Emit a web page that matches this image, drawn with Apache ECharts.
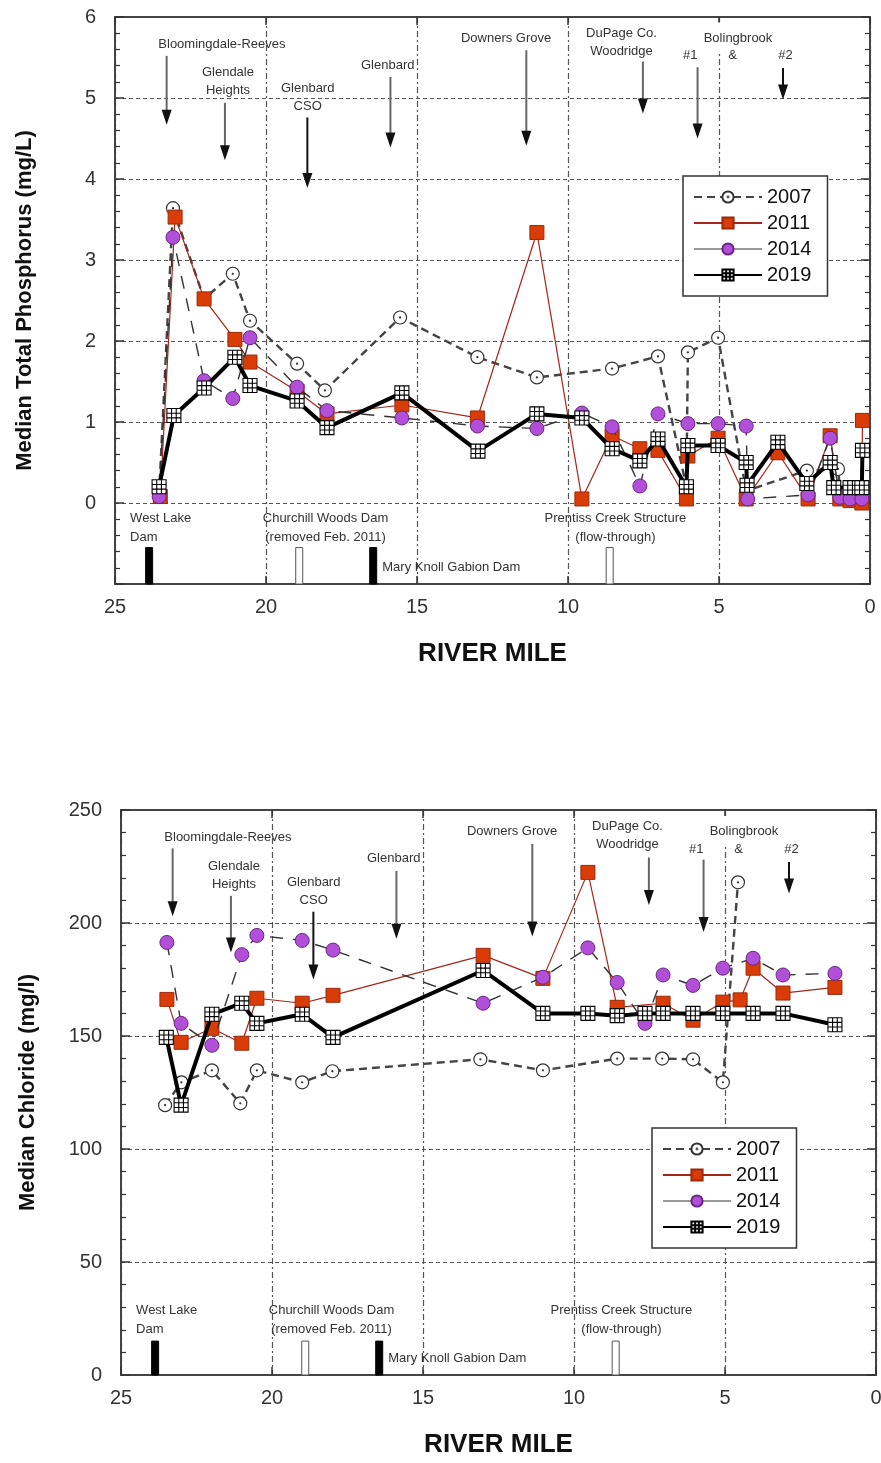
<!DOCTYPE html>
<html>
<head>
<meta charset="utf-8">
<script src="https://cdn.jsdelivr.net/npm/echarts@6/dist/echarts.min.js"></script>
<style>
html,body{margin:0;padding:0;background:#fff;}
#c{width:881px;height:1463px;}
</style>
</head>
<body>
<div id="c"></div>
<script>
// ---------------- DATA ----------------
const seriesNames = ['2007', '2011', '2014', '2019'];

// Total phosphorus (mg/L) by river mile
const tp2007Miles = [23.54, 23.08, 22.05, 21.1, 20.53, 18.97, 18.05, 15.56, 13.0, 11.03, 8.54, 7.02, 6.08, 6.03, 5.03, 4.1, 2.09, 1.06, 0.95, 0.6, 0.27];
const tp2007 = [0.1, 3.64, 2.52, 2.83, 2.25, 1.72, 1.39, 2.29, 1.8, 1.55, 1.66, 1.81, 0.2, 1.86, 2.04, 0.15, 0.4, 0.42, 0.05, 0.05, 0.05];

const tp2011Miles = [23.5, 23.01, 22.05, 21.03, 20.53, 18.97, 17.98, 15.5, 13.0, 11.03, 9.54, 8.54, 7.62, 7.02, 6.08, 6.03, 5.03, 4.1, 3.05, 2.05, 1.32, 1.0, 0.66, 0.27, 0.25];
const tp2011 = [0.08, 3.53, 2.52, 2.02, 1.74, 1.38, 1.1, 1.21, 1.05, 3.34, 0.05, 0.83, 0.67, 0.65, 0.05, 0.58, 0.8, 0.05, 0.62, 0.05, 0.83, 0.05, 0.03, 0.0, 1.02];

const tp2014Miles = [23.54, 23.08, 22.05, 21.1, 20.53, 18.97, 17.98, 15.5, 13.0, 11.03, 9.54, 8.54, 7.62, 7.02, 6.03, 5.03, 4.1, 4.05, 2.05, 1.32, 1.0, 0.66, 0.27];
const tp2014 = [0.08, 3.28, 1.51, 1.29, 2.04, 1.43, 1.14, 1.05, 0.95, 0.92, 1.11, 0.94, 0.21, 1.1, 0.98, 0.98, 0.95, 0.05, 0.1, 0.8, 0.07, 0.05, 0.05];

const tp2019Miles = [23.54, 23.05, 22.05, 21.03, 20.53, 18.97, 17.98, 15.5, 12.98, 11.03, 9.54, 8.54, 7.62, 7.02, 6.08, 6.03, 5.03, 4.1, 4.07, 3.05, 2.09, 1.32, 1.2, 0.66, 0.27, 0.25];
const tp2019 = [0.2, 1.08, 1.42, 1.8, 1.45, 1.26, 0.93, 1.36, 0.64, 1.1, 1.05, 0.67, 0.52, 0.79, 0.2, 0.71, 0.71, 0.5, 0.22, 0.75, 0.24, 0.5, 0.19, 0.19, 0.19, 0.65];

// Chloride (mg/l) by river mile
const cl2007Miles = [23.54, 23.0, 21.99, 21.05, 20.5, 19.0, 18.0, 13.1, 11.03, 8.57, 7.08, 6.06, 5.07, 4.57];
const cl2007 = [119.4, 129.5, 134.8, 120.2, 134.8, 129.5, 134.4, 139.7, 134.8, 140, 140, 139.7, 129.5, 218];

const cl2011Miles = [23.48, 23.01, 21.99, 21.0, 20.5, 19.0, 17.98, 13.01, 11.03, 9.54, 8.57, 7.05, 6.06, 5.07, 4.5, 4.07, 3.08, 1.36];
const cl2011 = [166.2, 147.2, 153.4, 146.8, 166.7, 164.5, 168, 185.7, 175.5, 222.4, 162.7, 164.5, 157, 165, 166, 180, 169, 171.5];

const cl2014Miles = [23.48, 23.01, 21.99, 21.0, 20.5, 19.0, 17.98, 13.01, 11.03, 9.54, 8.57, 7.65, 7.05, 6.06, 5.07, 4.07, 3.08, 1.36];
const cl2014 = [191.4, 155.6, 145.9, 186, 194.5, 192.3, 188, 164.5, 176, 189, 173.7, 155.6, 177, 172.4, 180, 184.4, 177, 177.7];

const cl2019Miles = [23.5, 23.01, 21.99, 21.0, 20.5, 19.0, 17.98, 13.01, 11.03, 9.54, 8.57, 7.65, 7.05, 6.06, 5.07, 4.07, 3.08, 1.36];
const cl2019 = [149.4, 119.4, 159.6, 164.5, 155.6, 159.6, 149.4, 179, 160, 160, 159, 160, 160, 160, 160, 160, 160, 155];

// Dams / structures (river mile, filled?)
const damMiles = [23.87, 18.9, 16.45, 8.62];
const damFilled = [1, 0, 1, 0];
const damTopTP = -0.55, damTopCl = 15;

// Site labels: [text, mile, value(TP chart), value(Cl chart), align, masks grid line]
const siteLabels = [
  ['Bloomingdale-Reeves', 21.46, 5.66, 237.8, 'center', 0],
  ['Glendale\nHeights', 21.26, 5.2, 221, 'center', 0],
  ['Glenbard\nCSO', 18.62, 5.01, 214, 'center', 0],
  ['Glenbard', 15.97, 5.4, 228.6, 'center', 0],
  ['Downers Grove', 12.05, 5.74, 240.5, 'center', 0],
  ['DuPage Co.\nWoodridge', 8.23, 5.69, 238.7, 'center', 0],
  ['Bolingbrook', 4.37, 5.74, 240.5, 'center', 1],
  ['#1', 5.95, 5.53, 232.5, 'center', 0],
  ['&', 4.55, 5.53, 232.5, 'center', 0],
  ['#2', 2.8, 5.53, 232.5, 'center', 0]
];
// Arrows: [mile, tpStart, tpEnd, clStart, clEnd, dark]
const arrows = [
  [23.29, 5.52, 4.67, 233, 203, 0],
  [21.36, 4.94, 4.23, 212, 187, 0],
  [18.63, 4.76, 3.89, 205, 175, 1],
  [15.88, 5.26, 4.39, 223, 193, 0],
  [11.38, 5.59, 4.41, 235, 194, 0],
  [7.52, 5.45, 4.81, 229, 208, 0],
  [5.71, 5.38, 4.5, 228, 196, 0],
  [2.88, 5.37, 4.98, 227, 213, 1]
];
// Dam labels: [text, mile, tpValue, clValue, align]
const damLabels = [
  ['West Lake\nDam', 24.5, -0.31, 24.3, 'left'],
  ['Churchill Woods Dam\n(removed Feb. 2011)', 18.03, -0.31, 24.3, 'center'],
  ['Mary Knoll Gabion Dam', 16.15, -0.79, 7.5, 'left'],
  ['Prentiss Creek Structure\n(flow-through)', 8.43, -0.31, 24.3, 'center']
];

// ---------------- CHART ----------------
const FONT = "'Liberation Sans', Arial, sans-serif";
const NARROW = "'Liberation Sans Narrow', 'Liberation Sans', Arial, sans-serif";
const pairs = (xs, ys) => xs.map((x, i) => [x, ys[i]]);
const gridSymbol = 'path://M0,0L12,0L12,12L0,12Z M4,0L4,12 M8,0L8,12 M0,4L12,4 M0,8L12,8';
const dotCircle = 'path://M0,6A6,6 0 1,1 12,6A6,6 0 1,1 0,6Z M5.5,6A0.5,0.5 0 1,1 6.5,6A0.5,0.5 0 1,1 5.5,6Z';

const styles = {
  '2007': {symbol: dotCircle, symbolSize: 13, itemStyle: {color: '#fff', borderColor: '#333', borderWidth: 1.2},
           lineStyle: {color: '#444', width: 2.4, type: [8, 5]}},
  '2011': {symbol: 'rect', symbolSize: 14, itemStyle: {color: '#d93c06', borderColor: '#9c2a0a', borderWidth: 1},
           lineStyle: {color: '#a3261c', width: 1.2, type: 'solid'}},
  '2014': {symbol: 'circle', symbolSize: 14, itemStyle: {color: '#b24fd8', borderColor: '#6a2682', borderWidth: 1},
           lineStyle: {color: '#333', width: 1.4, type: [13, 10]}},
  '2019': {symbol: gridSymbol, symbolSize: 14, itemStyle: {color: '#fff', borderColor: '#000', borderWidth: 1.1},
           lineStyle: {color: '#000', width: 4, type: 'solid'}}
};

function lineSeries(name, data, xi, yi) {
  const s = styles[name];
  return Object.assign({
    type: 'line', name: name, data: data, xAxisIndex: xi, yAxisIndex: yi,
    showSymbol: true, animation: false, z: 3 + seriesNames.indexOf(name),
    emphasis: {disabled: true}
  }, JSON.parse(JSON.stringify(s)), {symbol: s.symbol});
}

function damSeries(xi, yi, topVal, baseVal) {
  return {
    type: 'custom', name: 'dams', xAxisIndex: xi, yAxisIndex: yi, animation: false, z: 2,
    data: damMiles.map((m, i) => [m, topVal, baseVal, damFilled[i]]),
    renderItem: function (params, api) {
      const p0 = api.coord([api.value(0), api.value(1)]);
      const p1 = api.coord([api.value(0), api.value(2)]);
      const filled = api.value(3) === 1;
      return {type: 'rect', shape: {x: p0[0] - 3.5, y: p0[1], width: 7, height: p1[1] - p0[1]},
              style: {fill: filled ? '#000' : '#fff', stroke: filled ? '#000' : '#555', lineWidth: 1}};
    }
  };
}

const axisLineStyle = {color: '#444', width: 2};
function xAxes(gi) {
  return [{
    gridIndex: gi, type: 'value', inverse: true, min: 0, max: 25, interval: 5, position: 'bottom',
    axisLine: {show: true, onZero: false, lineStyle: axisLineStyle},
    axisTick: {show: true, inside: true, length: 8, lineStyle: {color: '#333', width: 1.5}},
    axisLabel: {fontSize: 20, color: '#333', margin: 13, fontFamily: FONT},
    splitLine: {show: true, lineStyle: {color: '#555', width: 1.2, type: [6, 3, 2, 3]}},
    name: 'RIVER MILE', nameLocation: 'middle', nameGap: 57,
    nameTextStyle: {fontSize: 26, fontWeight: 'bold', color: '#111', fontFamily: NARROW}
  }, {
    gridIndex: gi, type: 'value', inverse: true, min: 0, max: 25, interval: 5, position: 'top',
    axisLine: {show: true, onZero: false, lineStyle: axisLineStyle},
    axisTick: {show: true, inside: true, length: 8, lineStyle: {color: '#333', width: 1.5}},
    axisLabel: {show: false}, splitLine: {show: false}
  }];
}
function yAxes(gi, min, max, interval, name, gap) {
  return [{
    gridIndex: gi, type: 'value', min: min, max: max, interval: interval, position: 'left',
    axisLine: {show: true, onZero: false, lineStyle: axisLineStyle},
    axisTick: {show: true, inside: true, length: 9, lineStyle: {color: '#333', width: 1.5}},
    minorTick: {show: true, splitNumber: 5, length: 5, lineStyle: {color: '#333', width: 1.2}},
    axisLabel: {fontSize: 20, color: '#333', margin: 19, fontFamily: FONT,
                formatter: v => (v < 0 ? '' : String(v))},
    splitLine: {show: true, lineStyle: {color: '#555', width: 1.2, type: [4, 3]}},
    name: name, nameLocation: 'middle', nameRotate: 90, nameGap: gap,
    nameTextStyle: {fontSize: 22, fontWeight: 'bold', color: '#111', fontFamily: FONT}
  }, {
    gridIndex: gi, type: 'value', min: min, max: max, interval: interval, position: 'right',
    axisLine: {show: true, onZero: false, lineStyle: axisLineStyle},
    axisTick: {show: true, inside: true, length: 9, lineStyle: {color: '#333', width: 1.5}},
    minorTick: {show: true, splitNumber: 5, length: 5, lineStyle: {color: '#333', width: 1.2}},
    axisLabel: {show: false}, splitLine: {show: false}
  }];
}

function legendAt(left, top) {
  return {
    data: seriesNames.map(n => n === '2014'
      ? {name: n, lineStyle: {type: 'solid', color: '#777', width: 1.4}}
      : {name: n}),
    left: left, top: top, orient: 'vertical',
    backgroundColor: '#fff', borderColor: '#333', borderWidth: 1.5,
    padding: [11, 16, 11, 10], itemGap: 6, itemWidth: 68, itemHeight: 14,
    textStyle: {fontSize: 20, color: '#111', fontFamily: FONT},
    selectedMode: false, z: 10
  };
}

const chart = echarts.init(document.getElementById('c'), null, {renderer: 'canvas'});
const option = {
  backgroundColor: '#fff',
  animation: false,
  textStyle: {fontFamily: FONT},
  grid: [
    {left: 115, top: 17, width: 755, height: 567, containLabel: false, outerBoundsMode: 'none'},
    {left: 121, top: 810, width: 755, height: 565, containLabel: false, outerBoundsMode: 'none'}
  ],
  xAxis: [...xAxes(0), ...xAxes(1)],
  yAxis: [...yAxes(0, -1, 6, 1, 'Median Total Phosphorus (mg/L)', 79),
          ...yAxes(1, 0, 250, 50, 'Median Chloride (mg/l)', 82)],
  legend: [legendAt(683, 176), legendAt(652, 1128)],
  series: [
    damSeries(0, 0, damTopTP, -1),
    damSeries(2, 2, damTopCl, 0),
    lineSeries('2007', pairs(tp2007Miles, tp2007), 0, 0),
    lineSeries('2011', pairs(tp2011Miles, tp2011), 0, 0),
    lineSeries('2014', pairs(tp2014Miles, tp2014), 0, 0),
    lineSeries('2019', pairs(tp2019Miles, tp2019), 0, 0),
    lineSeries('2007', pairs(cl2007Miles, cl2007), 2, 2),
    lineSeries('2011', pairs(cl2011Miles, cl2011), 2, 2),
    lineSeries('2014', pairs(cl2014Miles, cl2014), 2, 2),
    lineSeries('2019', pairs(cl2019Miles, cl2019), 2, 2)
  ]
};
chart.setOption(option);

// Annotations positioned through the axes' scales
function px(which, x, y) {
  const f = which === 0 ? {xAxisIndex: 0, yAxisIndex: 0} : {xAxisIndex: 2, yAxisIndex: 2};
  return chart.convertToPixel(f, [x, y]);
}
const g = [];
function addText(p, text, align, size, lh, mask) {
  const style = {text: text, fill: '#333', font: size + 'px ' + FONT, align: align, textAlign: align,
                 verticalAlign: 'middle', textVerticalAlign: 'middle', lineHeight: lh};
  if (mask) { style.backgroundColor = '#fff'; style.padding = [1, 2, 12, 2]; }
  g.push({type: 'text', x: p[0], y: p[1], z: 20, style: style});
}
[0, 1].forEach(c => {
  siteLabels.forEach(s => addText(px(c, s[1], c === 0 ? s[2] : s[3]), s[0], s[4], 13, 18, s[5]));
  damLabels.forEach(s => addText(px(c, s[1], c === 0 ? s[2] : s[3]), s[0], s[4], 13, 19, 0));
  arrows.forEach(a => {
    const p0 = px(c, a[0], c === 0 ? a[1] : a[3]);
    const p1 = px(c, a[0], c === 0 ? a[2] : a[4]);
    g.push({type: 'line', z: 20, shape: {x1: p0[0], y1: p0[1], x2: p1[0], y2: p1[1] - 10},
            style: {stroke: a[5] ? '#111' : '#666', lineWidth: 2}});
    g.push({type: 'polygon', z: 20, shape: {points: [[p1[0] - 5, p1[1] - 15], [p1[0] + 5, p1[1] - 15], [p1[0], p1[1]]]},
            style: {fill: '#111'}});
  });
});
chart.setOption({graphic: g});
</script>
</body>
</html>
